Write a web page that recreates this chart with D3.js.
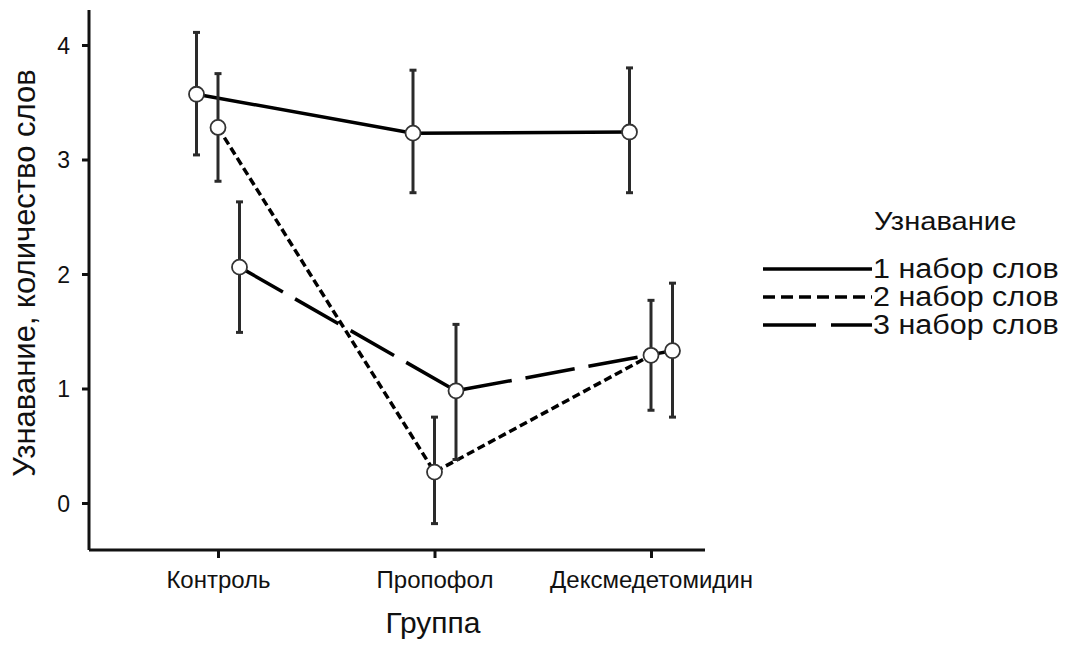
<!DOCTYPE html>
<html><head><meta charset="utf-8">
<script src="https://cdn.jsdelivr.net/npm/d3@7"></script>
<style>body{margin:0;background:#fff}svg{display:block}text{font-family:Arial,"Liberation Sans",sans-serif;fill:#111}</style>
</head><body><svg id="c" width="1080" height="650"></svg>
<script>
const categories = ["Контроль", "Пропофол", "Дексмедетомидин"];
const seriesNames = ["1 набор слов", "2 набор слов", "3 набор слов"];
const means1 = [3.57, 3.23, 3.24];
const lower1 = [3.04, 2.71, 2.71];
const upper1 = [4.11, 3.78, 3.80];
const means2 = [3.28, 0.27, 1.29];
const lower2 = [2.81, -0.18, 0.81];
const upper2 = [3.75, 0.75, 1.77];
const means3 = [2.06, 0.98, 1.33];
const lower3 = [1.49, 0.38, 0.75];
const upper3 = [2.63, 1.56, 1.92];
const yTicks = [0, 1, 2, 3, 4];
const legendTitle = "Узнавание";
const xTitle = "Группа";
const yTitle = "Узнавание, количество слов";

const series = [
  {name: seriesNames[0], m: means1, lo: lower1, hi: upper1, dash: null, ldash: null, off: -1},
  {name: seriesNames[1], m: means2, lo: lower2, hi: upper2, dash: "8,4", ldash: "12,6", off: 0},
  {name: seriesNames[2], m: means3, lo: lower3, hi: upper3, dash: "50,14", ldash: "53,15", off: 1}
];

const svg = d3.select("#c");
const x = d3.scalePoint().domain(categories).range([218, 651]);
const y = d3.scaleLinear().domain([0, 4]).range([503, 45]);
const offStep = 21.5;

// axes
const yAx = svg.append("g").attr("transform", "translate(89,0)")
  .call(d3.axisLeft(y).tickValues(yTicks).tickSize(7).tickPadding(12).tickFormat(d3.format("d")));
yAx.select(".domain").attr("d", "M0,10V550");
const xAx = svg.append("g").attr("transform", "translate(0,550)")
  .call(d3.axisBottom(x).tickSize(8));
xAx.select(".domain").attr("d", "M89,0H705");
[yAx, xAx].forEach(g => {
  g.select(".domain").attr("stroke", "#111").attr("stroke-width", 3);
  g.selectAll(".tick line").attr("stroke", "#111").attr("stroke-width", 3);
  g.selectAll(".tick text").attr("fill", "#111");
});
yAx.selectAll(".tick text").attr("font-size", 23).attr("dy", "0.36em");
xAx.selectAll(".tick text").attr("font-size", 24).attr("y", 38).attr("dy", null);

svg.append("text").attr("x", 433).attr("y", 633).attr("text-anchor", "middle").attr("font-size", 30).text(xTitle);
svg.append("text").attr("transform", "translate(35,273) rotate(-90)").attr("text-anchor", "middle").attr("font-size", 31).text(yTitle);

const px = (s, i) => x(categories[i]) + s.off * offStep;
const line = d3.line();

// lines
series.forEach(s => {
  const pts = s.m.map((v, i) => [px(s, i), y(v)]);
  svg.append("path").attr("d", line(pts)).attr("fill", "none").attr("stroke", "#000")
    .attr("stroke-width", 3.5).attr("stroke-dasharray", s.dash);
});
// error bars
series.forEach(s => {
  s.m.forEach((v, i) => {
    const cx = px(s, i);
    const g = svg.append("g").attr("stroke", "#2a2a2a").attr("stroke-width", 3);
    g.append("line").attr("x1", cx).attr("x2", cx).attr("y1", y(s.lo[i])).attr("y2", y(s.hi[i]));
    g.append("line").attr("x1", cx - 3.5).attr("x2", cx + 3.5).attr("y1", y(s.lo[i])).attr("y2", y(s.lo[i]));
    g.append("line").attr("x1", cx - 3.5).attr("x2", cx + 3.5).attr("y1", y(s.hi[i])).attr("y2", y(s.hi[i]));
  });
});
// markers
series.forEach(s => {
  s.m.forEach((v, i) => {
    svg.append("circle").attr("cx", px(s, i)).attr("cy", y(v)).attr("r", 7.5)
      .attr("fill", "#fff").attr("stroke", "#333").attr("stroke-width", 1.8);
  });
});

// legend
svg.append("text").attr("transform", "translate(874,230) scale(1.12,1)").attr("font-size", 26).text(legendTitle);
series.forEach((s, i) => {
  const ly = 269 + i * 28;
  svg.append("line").attr("x1", 763).attr("x2", 872).attr("y1", ly).attr("y2", ly)
    .attr("stroke", "#000").attr("stroke-width", 3.5)
    .attr("stroke-dasharray", s.ldash);
  svg.append("text").attr("transform", `translate(873,${ly + 9}) scale(1.13,1)`).attr("font-size", 27).text(s.name);
});
</script></body></html>
